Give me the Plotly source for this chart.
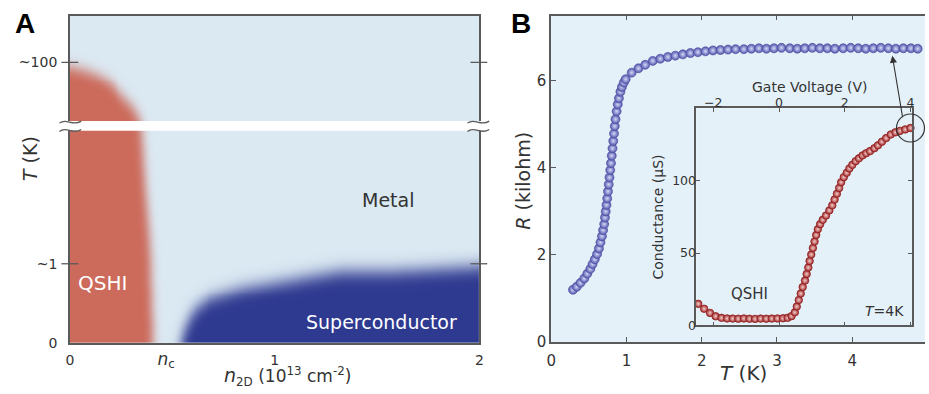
import numpy as np
import plotly.graph_objects as go

W, H = 929, 394
FONT = "DejaVu Sans"
INK = "#333333"
AXC = "#5a5a5a"

# ---------------- Panel A: schematic phase diagram ----------------
# scaled temperature axis (0 .. 1) with a break between ~1 K and ~100 K
a_ytick_vals = [0.0, 0.242, 0.857]
a_ytick_text = ["0", "~1", "~100"]
n_c = 0.47
a_xtick_vals = [0.0, n_c, 1.0, 2.0]
a_xtick_text = ["0", "<span style='font-size:17px'><i>n</i><sub>c</sub></span>", "1", "2"]
break_T = [0.648, 0.678]

# QSHI edge: density limit of the insulating phase vs scaled temperature
qshi_T = [0.00, 0.30, 0.50, 0.60, 0.68, 0.72, 0.75, 0.78, 0.80, 0.82, 0.835, 0.845]
qshi_n = [0.405, 0.39, 0.365, 0.355, 0.345, 0.31, 0.26, 0.22, 0.19, 0.13, 0.07, 0.0]
# superconducting dome: scaled Tc vs density
sc_n = [0.54, 0.554, 0.60, 0.675, 0.84, 1.17, 1.31, 1.62, 1.96, 2.0]
sc_T = [0.0, 0.04, 0.10, 0.137, 0.167, 0.203, 0.218, 0.221, 0.233, 0.236]

# ---------------- Panel B: R(T) ----------------
T_K = [0.29, 0.34, 0.39, 0.44, 0.48, 0.52, 0.55, 0.58, 0.61, 0.635, 0.655, 0.675,
       0.69, 0.705, 0.715, 0.725, 0.735, 0.745, 0.755, 0.765, 0.775, 0.785, 0.795,
       0.805, 0.815, 0.825, 0.835, 0.845, 0.855, 0.87, 0.885, 0.90, 0.92, 0.94,
       0.965, 0.99,
       1.07, 1.16, 1.25, 1.35, 1.45, 1.55, 1.65, 1.75, 1.85, 1.95, 2.05, 2.15,
       2.25, 2.35, 2.45, 2.56, 2.66, 2.76, 2.86, 2.96, 3.06, 3.17, 3.27, 3.37,
       3.47, 3.57, 3.67, 3.77, 3.88, 3.98, 4.08, 4.18, 4.28, 4.38, 4.48, 4.58,
       4.68, 4.78, 4.87]
R_kohm = [1.20, 1.27, 1.36, 1.46, 1.57, 1.68, 1.79, 1.90, 2.02, 2.15, 2.29, 2.43,
          2.57, 2.71, 2.86, 3.00, 3.15, 3.30, 3.46, 3.62, 3.78, 3.95, 4.11,
          4.28, 4.45, 4.62, 4.79, 4.96, 5.12, 5.30, 5.46, 5.60, 5.75, 5.86,
          5.96, 6.04,
          6.19, 6.29, 6.37, 6.46, 6.51, 6.55, 6.58, 6.61, 6.64, 6.66, 6.68, 6.70,
          6.71, 6.72, 6.73, 6.73, 6.74, 6.75, 6.74, 6.75, 6.76, 6.75, 6.74, 6.75,
          6.76, 6.75, 6.75, 6.74, 6.75, 6.76, 6.75, 6.74, 6.75, 6.76, 6.75, 6.74,
          6.75, 6.75, 6.74]

# inset: conductance vs gate voltage at T = 4 K
gate_V = [-2.46, -2.28, -2.10, -1.93, -1.75, -1.58, -1.41, -1.24, -1.07, -0.90,
          -0.73, -0.56, -0.39, -0.22, -0.05, 0.12, 0.26, 0.38,
          0.48, 0.54, 0.60, 0.66, 0.72, 0.79, 0.84, 0.89, 0.93, 0.98, 1.03, 1.08,
          1.13, 1.18, 1.25, 1.33, 1.43, 1.53, 1.62, 1.69, 1.76, 1.83, 1.89, 1.97,
          2.06, 2.14, 2.23, 2.33, 2.43, 2.54, 2.65, 2.77, 2.90, 3.01, 3.13, 3.26,
          3.40, 3.54, 3.68, 3.84, 4.00]
cond_uS = [14.9, 11.5, 8.6, 6.3, 5.2, 4.8, 4.7, 4.6, 4.8, 4.6, 4.5, 4.7, 4.6,
           4.7, 4.8, 4.9, 5.2, 6.4,
           9.0, 13.0, 17.5, 22.0, 26.5, 31.0, 35.5, 40.0, 44.5, 49.0, 53.5, 58.0,
           62.5, 66.5, 70.0, 73.0, 76.0, 79.5, 83.0, 87.0, 91.0, 95.0, 99.0, 102.5,
           105.5, 108.5, 111.0, 113.5, 115.5, 117.5, 119.0, 120.5, 122.5, 124.5,
           127.0, 129.5, 132.0, 133.5, 134.5, 135.5, 136.5]

# ---------------- geometry helpers (pixel -> paper) ----------------
def px(x):
    return x / W


def py(y):
    return 1 - y / H


A_dom_x = [px(65.5), px(479)]
A_dom_y = [py(351), py(16)]
B_dom_x = [px(551.5), 1.0]
B_dom_y = [py(350), py(16)]
I_dom_x = [px(698), px(916)]
I_dom_y = [py(333), py(111)]
B_xrange = [0, (929 - 551.5) / 76.0]
I_xrange = [-2.52, 4.05]
I_yrange = [0, 150]

# ---------------- phase field for panel A ----------------
ng = np.linspace(0, 2, 415)
Tg = np.linspace(0, 1, 336)
N, T = np.meshgrid(ng, Tg)
qshi_mask = (N < np.interp(T, qshi_T, qshi_n, right=-1.0)).astype(float)
sc_mask = (T < np.interp(N, sc_n, sc_T, left=-1.0)).astype(float)


def kernel(sigma):
    r = int(3 * sigma) + 1
    t = np.arange(-r, r + 1)
    k = np.exp(-0.5 * (t / sigma) ** 2)
    return k / k.sum(), r


def soften(a, sx, sy):
    kx, rx = kernel(sx)
    ky, ry = kernel(sy)
    p = np.pad(a, ((ry, ry), (rx, rx)), mode="edge")
    p = np.apply_along_axis(lambda r: np.convolve(r, kx, mode="valid"), 1, p)
    p = np.apply_along_axis(lambda c: np.convolve(c, ky, mode="valid"), 0, p)
    return p


field = soften(sc_mask, 5.0, 8.0) - soften(qshi_mask, 4.5, 6.5)
field = np.round(field[::2, ::2], 3)

fig = go.Figure()

fig.add_trace(go.Heatmap(
    x=ng[::2], y=Tg[::2], z=field, zmin=-1, zmax=1, zsmooth="best",
    colorscale=[[0, "#cc6a5b"], [0.5, "#dbe9f3"], [1, "#2e3990"]],
    showscale=False, hoverinfo="skip", xaxis="x", yaxis="y"))

# R(T) spheres
fig.add_trace(go.Scatter(
    x=T_K, y=R_kohm, mode="markers", xaxis="x2", yaxis="y2",
    marker=dict(size=9, color="#5256ae",
                gradient=dict(type="radial", color="#d6d8f6"),
                line=dict(color="#464a9a", width=0.6)),
    hoverinfo="skip", cliponaxis=False))

# conductance inset
fig.add_trace(go.Scatter(
    x=gate_V, y=cond_uS, mode="markers", xaxis="x3", yaxis="y3",
    marker=dict(size=7.5, color="#a3282a",
                gradient=dict(type="radial", color="#f2cfcb"),
                line=dict(color="#8e1f20", width=0.8)),
    hoverinfo="skip", cliponaxis=False))

tickfont_A = dict(family=FONT, size=14, color=INK)
tickfont_B = dict(family=FONT, size=15, color=INK)
tickfont_I = dict(family=FONT, size=12.5, color=INK)

fig.update_layout(
    width=W, height=H, margin=dict(l=0, r=0, t=0, b=0),
    paper_bgcolor="white", plot_bgcolor="#e4f1f9", showlegend=False,
    font=dict(family=FONT, color=INK),
    xaxis=dict(domain=A_dom_x, range=[0, 2], anchor="y", showgrid=False,
               zeroline=False, showline=True, linecolor=AXC, linewidth=1.5,
               mirror=True, ticks="", tickvals=a_xtick_vals,
               ticktext=a_xtick_text, tickfont=tickfont_A, ticklabelstandoff=3),
    yaxis=dict(domain=A_dom_y, range=[0, 1], anchor="x", showgrid=False,
               zeroline=False, showline=True, linecolor=AXC, linewidth=1.5,
               mirror=True, ticks="", tickvals=a_ytick_vals,
               ticktext=a_ytick_text, tickfont=tickfont_A, ticklabelstandoff=8),
    xaxis2=dict(domain=B_dom_x, range=B_xrange, anchor="y2", showgrid=False,
                zeroline=False, showline=True, linecolor=AXC, linewidth=1.5,
                mirror="ticks", ticks="inside", ticklen=5, tickcolor=AXC,
                tickwidth=1.2, tickvals=[0, 1, 2, 3, 4, 5], tickfont=tickfont_B,
                ticklabelstandoff=4),
    yaxis2=dict(domain=B_dom_y, range=[0, 7.5], anchor="x2", showgrid=False,
                zeroline=False, showline=True, linecolor=AXC, linewidth=1.5,
                ticks="inside", ticklen=5, tickcolor=AXC, tickwidth=1.2,
                tickvals=[0, 2, 4, 6], tickfont=tickfont_B),
    xaxis3=dict(domain=I_dom_x, range=I_xrange, anchor="y3", side="top",
                showgrid=False, zeroline=False, showline=True, linecolor=AXC,
                linewidth=1.5, mirror="ticks", ticks="inside", ticklen=4,
                tickcolor=AXC, tickvals=[-2, 0, 2, 4], tickfont=tickfont_I,
                ticklabelstandoff=-5),
    yaxis3=dict(domain=I_dom_y, range=I_yrange, anchor="x3", showgrid=False,
                zeroline=False, showline=True, linecolor=AXC, linewidth=1.5,
                mirror="ticks", ticks="inside", ticklen=4, tickcolor=AXC,
                tickvals=[0, 50, 100], tickfont=tickfont_I,
                ticklabelstandoff=-4),
)

shapes = []
# white inset background
shapes.append(dict(type="rect", xref="x3 domain", yref="y3 domain", x0=0, x1=1,
                   y0=0, y1=1, fillcolor="white", line=dict(width=0), layer="below"))
# axis break band in panel A
shapes.append(dict(type="rect", xref="paper", yref="y", x0=px(56), x1=px(489),
                   y0=break_T[0], y1=break_T[1], fillcolor="white",
                   line=dict(width=0), layer="above"))


def squiggle(x0, y):
    pts = [(x0, y + 1), (x0 + 7, y - 5), (x0 + 13, y + 5), (x0 + 22, y - 1)]
    (a, b), (c, d), (e, f), (g, h) = [(px(u), py(v)) for u, v in pts]
    return f"M {a},{b} C {c},{d} {e},{f} {g},{h}"


for x0 in (55, 467):
    for yy in (125, 133.5):
        shapes.append(dict(type="path", xref="paper", yref="paper",
                           path=squiggle(x0, yy), line=dict(color=AXC, width=1.3),
                           layer="above"))

# crossing tick marks on both sides of panel A
for tv in a_ytick_vals[1:]:
    for xa, xb in ((57, 74), (470, 487)):
        shapes.append(dict(type="line", xref="paper", yref="y", x0=px(xa),
                           x1=px(xb), y0=tv, y1=tv,
                           line=dict(color=AXC, width=1.3), layer="above"))

# circle marking the last inset point (the 4 V gate voltage)
cx = I_dom_x[0] + (gate_V[-1] - I_xrange[0]) / (I_xrange[1] - I_xrange[0]) * (I_dom_x[1] - I_dom_x[0])
cy = I_dom_y[0] + (cond_uS[-1] - I_yrange[0]) / (I_yrange[1] - I_yrange[0]) * (I_dom_y[1] - I_dom_y[0])
shapes.append(dict(type="circle", xref="paper", yref="paper", xsizemode="pixel",
                   ysizemode="pixel", xanchor=cx, yanchor=cy, x0=-14, x1=14,
                   y0=-14, y1=14, line=dict(color="#333333", width=1.2),
                   layer="above"))
fig.update_layout(shapes=shapes)

ann = []


def label(x, y, text, size, color=INK, **kw):
    d = dict(xref="paper", yref="paper", x=px(x), y=py(y), text=text,
             showarrow=False, xanchor="center", yanchor="middle",
             font=dict(family=FONT, size=size, color=color))
    d.update(kw)
    ann.append(d)


# panel letters
label(20, 24, "<b>A</b>", 28, "black")
label(521, 24, "<b>B</b>", 28, "black")
ann[-1]["font"]["family"] = ann[-2]["font"]["family"] = "Liberation Sans Narrow, Liberation Sans"

# axis titles
label(26, 162, "<i>T</i> (K)", 19, textangle=-90)
label(285, 385, "<span style='font-size:19px'><i>n</i></span><sub>2D</sub> (10<sup>13</sup> cm<sup>-2</sup>)", 17)
label(523, 185, "<i>R</i> (kilohm)", 19, textangle=-90)
label(746, 382, "<i>T</i> (K)", 20)
label(812, 89, "Gate Voltage (V)", 14)
label(659, 222, "Conductance (\u03bcS)", 14, textangle=-90)

# region labels
label(98, 290, "QSHI", 20, "white")
label(387, 205, "Metal", 19, INK)
label(380, 330, "Superconductor", 19, "white")
label(752, 301, "QSHI", 15, INK)
label(910, 318, "<i>T</i>=4K", 14, INK, xanchor="right")

# arrow from the circled inset point up to the R(T) plateau
ann.append(dict(xref="paper", yref="paper", x=px(896), y=py(57),
                ax=906.5 - 896, ay=120 - 57, text="",
                showarrow=True, arrowhead=2, arrowsize=1.3, arrowwidth=1.1,
                arrowcolor="#333333"))
fig.update_layout(annotations=ann)

fig.write_html("out.html")
